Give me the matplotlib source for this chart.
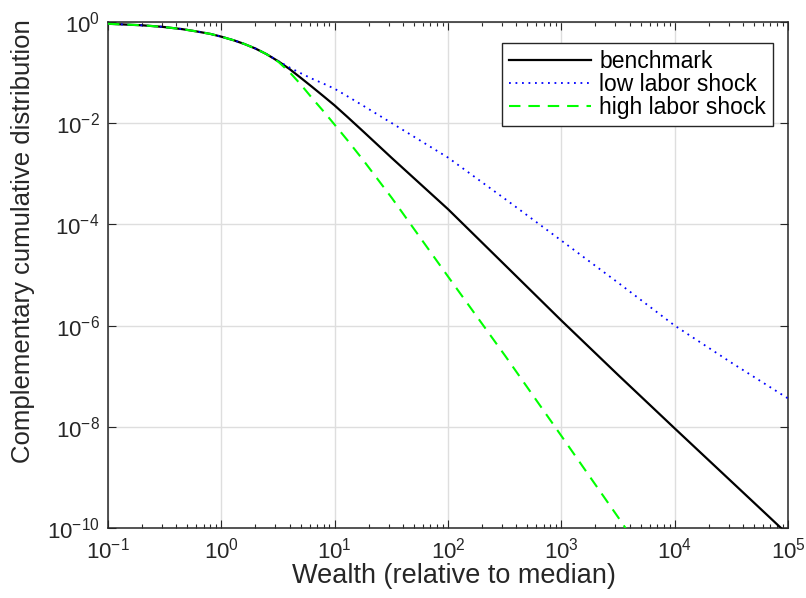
import matplotlib
matplotlib.use("Agg")
import matplotlib.pyplot as plt
from matplotlib.ticker import LogLocator, NullLocator, LogFormatterSciNotation

# Dados (riqueza relativa à mediana, CCDF)
wealth = [0.1, 0.2, 0.3, 0.45, 0.6, 0.8, 1, 1.3, 1.6, 2, 2.5, 3.2, 4, 5, 6.3, 8, 10, 13, 18, 32,
          100, 320, 1000, 3200, 1e4, 3.2e4, 1e5]
benchmark = [0.923, 0.861, 0.804, 0.724, 0.653, 0.582, 0.513, 0.432, 0.367, 0.299, 0.232, 0.166,
             0.1175, 0.0794, 0.0525, 0.0339, 0.0224, 0.0132, 6.76e-3, 2.04e-3,
             2.0e-4, 1.55e-5, 1.26e-6, 1.035e-7, 9.3e-9, 8.1e-10, 7.4e-11]
low_shock = [0.923, 0.861, 0.804, 0.724, 0.653, 0.582, 0.513, 0.432, 0.367, 0.299, 0.232, 0.168,
             0.126, 0.0977, 0.0759, 0.0603, 0.0479, 0.0339, 0.0219, 0.0100,
             2.09e-3, 3.16e-4, 4.79e-5, 6.92e-6, 1.0e-6, 1.82e-7, 3.63e-8]
wealth_high = [0.1, 0.2, 0.3, 0.45, 0.6, 0.8, 1, 1.3, 1.6, 2, 2.5, 3.2, 4, 5, 6.3, 8, 10, 13, 18, 32,
               100, 320, 1000, 3200, 4000]
high_shock = [0.923, 0.861, 0.804, 0.724, 0.653, 0.582, 0.513, 0.432, 0.367, 0.299, 0.232, 0.162,
              0.102, 0.0589, 0.0316, 0.0170, 9.33e-3, 4.57e-3, 1.82e-3, 3.31e-4,
              9.33e-6, 2.51e-7, 6.61e-9, 1.58e-10, 7.6e-11]

labels = ["benchmark", "low labor shock", "high labor shock"]
y_ticks = [1e-10, 1e-8, 1e-6, 1e-4, 1e-2, 1]

plt.rcParams["font.family"] = ["Liberation Sans", "DejaVu Sans"]
plt.rcParams["mathtext.fontset"] = "custom"
plt.rcParams["mathtext.rm"] = "Liberation Sans"
plt.rcParams["axes.unicode_minus"] = False

fig = plt.figure(figsize=(8.06, 5.98), dpi=100)
ax = fig.add_axes([0.134, 0.1171, 0.9777 - 0.134, 0.9632 - 0.1171])

ax.plot(wealth, benchmark, color="black", lw=1.6, label=labels[0], zorder=3)
ax.plot(wealth, low_shock, color="#0000ff", lw=1.3, linestyle=(0, (1, 2.6)), label=labels[1], zorder=4)
ax.plot(wealth_high, high_shock, color="#00ff00", lw=1.5, linestyle=(0, (5.5, 3.8)), label=labels[2], zorder=5)

ax.set_xscale("log")
ax.set_yscale("log")
ax.set_xlim(0.1, 1e5)
ax.set_ylim(1e-10, 1)

# Ticks estilo MATLAB
ax.xaxis.set_major_locator(LogLocator(base=10, numticks=20))
ax.xaxis.set_minor_locator(LogLocator(base=10, subs=range(2, 10), numticks=20))
ax.set_yticks(y_ticks)
ax.yaxis.set_minor_locator(NullLocator())
ax.yaxis.set_major_formatter(LogFormatterSciNotation())

dark = "#262626"
ax.tick_params(which="both", direction="in", top=True, right=True, color=dark, width=0.8)
ax.tick_params(which="major", length=5.5, labelsize=16, labelcolor=dark)
ax.tick_params(which="minor", length=3)
ax.tick_params(axis="x", which="major", pad=7)
ax.tick_params(axis="y", which="major", pad=6)
for s in ax.spines.values():
    s.set_color(dark)
    s.set_linewidth(1.1)

ax.grid(True, which="major", color="#dedede", lw=1.0, zorder=0)
ax.set_axisbelow(True)

ax.set_xlabel("Wealth (relative to median)", fontsize=19.5, color=dark)
ax.set_ylabel("Complementary cumulative distribution", fontsize=18.5, color=dark)
ax.xaxis.set_label_coords(0.508, -0.07)
ax.yaxis.set_label_coords(-0.107, 0.567)

leg = ax.legend(loc="upper right", bbox_to_anchor=(0.978, 0.9585), borderaxespad=0,
                fontsize=16.5, fancybox=False, framealpha=1, edgecolor=dark,
                handlelength=3.6, handletextpad=0.35, labelspacing=0.0, borderpad=0.31)
leg.get_frame().set_linewidth(1.0)

plt.savefig("out.png", dpi=100)
